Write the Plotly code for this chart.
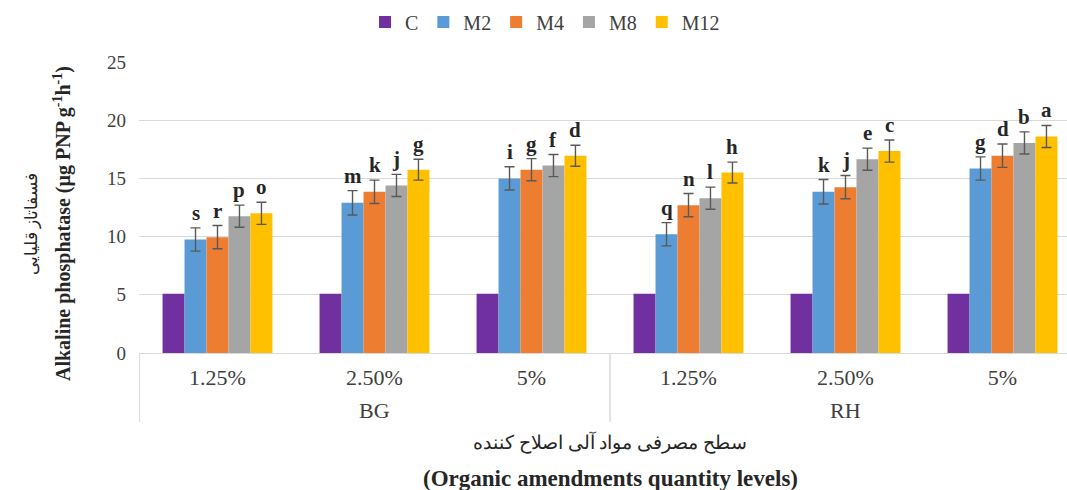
import plotly.graph_objects as go

materials = ["BG", "BG", "BG", "RH", "RH", "RH"]
levels = ["1.25%", "2.50%", "5%", "1.25%", "2.50%", "5%"]
series_names = ["C", "M2", "M4", "M8", "M12"]
values = {
    "C":   [5.1, 5.1, 5.1, 5.1, 5.1, 5.1],
    "M2":  [9.75, 12.9, 15.0, 10.2, 13.85, 15.85],
    "M4":  [9.95, 13.85, 15.75, 12.7, 14.25, 16.95],
    "M8":  [11.75, 14.4, 16.1, 13.3, 16.65, 18.05],
    "M12": [12.0, 15.75, 16.95, 15.5, 17.35, 18.6],
}
errors = {
    "C":   [0, 0, 0, 0, 0, 0],
    "M2":  [1.0, 1.05, 1.0, 1.0, 1.05, 1.0],
    "M4":  [1.0, 1.0, 0.95, 1.0, 1.0, 1.0],
    "M8":  [0.95, 0.95, 0.95, 0.95, 0.95, 0.95],
    "M12": [0.95, 0.9, 0.9, 0.9, 0.95, 0.95],
}
letters = {
    "C":   ["", "", "", "", "", ""],
    "M2":  ["s", "m", "i", "q", "k", "g"],
    "M4":  ["r", "k", "g", "n", "j", "d"],
    "M8":  ["p", "j", "f", "l", "e", "b"],
    "M12": ["o", "g", "d", "h", "c", "a"],
}
colors = {"C": "#7030A0", "M2": "#5B9BD5", "M4": "#ED7D31", "M8": "#A5A5A5", "M12": "#FFC000"}

y_ticks = [0, 5, 10, 15, 20, 25]
y_title_fa = "فسفاتاز قلیایی"
y_title_en = "Alkaline phosphatase (µg PNP g<sup>-1</sup>h<sup>-1</sup>)"
x_title_fa = "سطح مصرفی مواد آلی اصلاح کننده"
x_title_en = "(Organic amendments quantity levels)"

FONT = "Liberation Serif, Times New Roman, serif"
BARGAP = 0.3

# unique category keys (material + level); tick text shows the level only
cats = [m + " " + l for m, l in zip(materials, levels)]

fig = go.Figure()
for name in series_names:
    err = errors[name]
    fig.add_trace(go.Bar(
        name=name,
        x=cats,
        y=values[name],
        marker=dict(color=colors[name], line=dict(width=0)),
        error_y=dict(type="data", array=err, visible=any(e > 0 for e in err),
                     color="#595959", thickness=1.4, width=5),
    ))

W, H = 1067, 490
L, R, T, B = 139, 0, 62, 137
pw = W - L - R
ph = H - T - B

def px_x(px):
    return (px - L) / pw

def px_y(py):
    return (H - B - py) / ph

# significance letters above the error bars
n = len(series_names)
bw = (1 - BARGAP) / n
for i, name in enumerate(series_names):
    for g in range(len(cats)):
        lab = letters[name][g]
        if not lab:
            continue
        fig.add_annotation(
            x=g + (i - (n - 1) / 2) * bw, xref="x",
            y=values[name][g] + errors[name][g], yref="y",
            text="<b>" + lab + "</b>", showarrow=False,
            yanchor="bottom", yshift=1,
            font=dict(family=FONT, size=21, color="#262626"),
        )

# second-level group labels and dividers
groups = []
for idx, m in enumerate(materials):
    if not groups or groups[-1][0] != m:
        groups.append([m, idx, idx])
    else:
        groups[-1][2] = idx
for m, first, last in groups:
    fig.add_annotation(x=(first + last) / 2, xref="x", y=px_y(410), yref="paper",
                       text=m, showarrow=False, xanchor="center", yanchor="middle",
                       font=dict(family=FONT, size=22, color="#404040"))
    for edge in (first - 0.5, last + 0.5):
        xe = edge + (0.004 if edge < 0 else 0)
        fig.add_shape(type="line", xref="x", yref="paper",
                      x0=xe, x1=xe, y0=0, y1=px_y(422),
                      line=dict(color="#d9d9d9", width=1))

fig.add_annotation(x=px_x(32), y=px_y(224), xref="paper", yref="paper",
                   text=y_title_fa, textangle=-90, showarrow=False,
                   xanchor="center", yanchor="middle",
                   font=dict(family=FONT, size=17, color="#262626"))
fig.add_annotation(x=px_x(62), y=px_y(224), xref="paper", yref="paper",
                   text="<b>" + y_title_en + "</b>", textangle=-90, showarrow=False,
                   xanchor="center", yanchor="middle",
                   font=dict(family=FONT, size=20, color="#262626"))
fig.add_annotation(x=2.5, xref="x", y=px_y(442), yref="paper",
                   text=x_title_fa, showarrow=False,
                   xanchor="center", yanchor="middle",
                   font=dict(family=FONT, size=19, color="#262626"))
fig.add_annotation(x=2.5, xref="x", y=px_y(478), yref="paper",
                   text="<b>" + x_title_en + "</b>", showarrow=False,
                   xanchor="center", yanchor="middle",
                   font=dict(family=FONT, size=23, color="#262626"))

fig.update_layout(
    width=W, height=H,
    margin=dict(l=L, r=R, t=T, b=B, autoexpand=False),
    barmode="group", bargap=BARGAP, bargroupgap=0,
    plot_bgcolor="white", paper_bgcolor="white",
    font=dict(family=FONT, size=19, color="#404040"),
    showlegend=True,
    legend=dict(orientation="h", x=px_x(545), xanchor="center",
                y=px_y(22), yanchor="middle",
                font=dict(family=FONT, size=20, color="#404040"),
                tracegroupgap=0),
    xaxis=dict(type="category", range=[-0.5, (W - L) / 157 - 0.5],
               tickvals=cats, ticktext=levels,
               showgrid=False, showline=True, linecolor="#d9d9d9", linewidth=1,
               ticks="", ticklabelstandoff=5, automargin=False,
               tickfont=dict(family=FONT, size=22, color="#404040")),
    yaxis=dict(range=[0, 25], tickvals=y_ticks, showgrid=True, gridcolor="#d9d9d9",
               gridwidth=1, zeroline=False, showline=False, ticks="", automargin=False,
               tickfont=dict(family=FONT, size=19, color="#404040"), ticklabelstandoff=12),
)

fig.write_html("out.html", config={"displayModeBar": False},
               post_script="document.body.style.margin='0';document.body.style.overflow='hidden';")
